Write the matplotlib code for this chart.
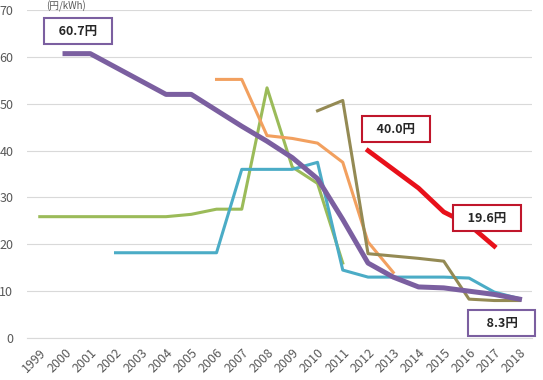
import numpy as np
import matplotlib
matplotlib.use("Agg")
import matplotlib.pyplot as plt

plt.rcParams['font.family'] = ['Noto Sans CJK JP', 'DejaVu Sans']

nan = np.nan
years = [str(y) for y in range(1999, 2019)]

# values per series, 1999..2018 (nan = no data)
green = [25.9, 25.9, 25.9, 25.9, 25.9, 25.9, 26.4, 27.5, 27.5, 53.4, 36.5, 33.0, 16.0,
         nan, nan, nan, nan, nan, nan, nan]
teal = [nan, nan, nan, 18.2, 18.2, 18.2, 18.2, 18.2, 36.0, 36.0, 36.0, 37.5, 14.5,
        13.0, 13.0, 13.0, 13.0, 12.8, 9.8, 8.4]
orange = [nan, nan, nan, nan, nan, nan, nan, 55.2, 55.2, 43.2, 42.6, 41.6, 37.5,
          20.5, 14.0, nan, nan, nan, nan, nan]
olive = [nan, nan, nan, nan, nan, nan, nan, nan, nan, nan, nan, 48.5, 50.7,
         18.0, 17.5, 17.0, 16.4, 8.3, 8.0, 8.0]
purple = [nan, 60.7, 60.7, 57.8, 54.9, 52.0, 52.0, 48.6, 45.2, 42.0, 38.5, 34.0, 25.3,
          16.0, 13.0, 10.9, 10.7, 10.0, 9.3, 8.3]
red = [nan, nan, nan, nan, nan, nan, nan, nan, nan, nan, nan, nan, nan,
       40.0, 36.0, 32.0, 26.9, 24.2, 19.6, nan]

yticks = [0, 10, 20, 30, 40, 50, 60, 70]

fig = plt.figure(figsize=(5.43, 3.80), dpi=100)
ax = fig.add_axes([0.050, 0.1105, 0.930, 0.863])

x = np.arange(len(years))
ax.plot(x, green, color='#9BBB59', lw=2.2)
ax.plot(x, teal, color='#4BACC6', lw=2.2)
ax.plot(x, orange, color='#F2A05F', lw=2.2)
ax.plot(x, olive, color='#948A54', lw=2.2)
ax.plot(x, purple, color='#7B5FA0', lw=3.6)
ax.plot(x, red, color='#E8101A', lw=3.4)

ax.set_xlim(-0.5, len(years) - 0.5)
ax.set_ylim(0, 70)
ax.set_yticks(yticks)
ax.set_xticks(x)
ax.set_xticklabels(years, rotation=45, ha='right', rotation_mode='anchor')
ax.tick_params(axis='both', length=0, labelsize=9, colors='#595959')
ax.tick_params(axis='x', pad=6)
ax.tick_params(axis='y', pad=10)
ax.grid(axis='y', color='#D9D9D9', lw=0.8)
ax.set_axisbelow(True)
for s in ['top', 'right', 'left']:
    ax.spines[s].set_visible(False)
ax.spines['bottom'].set_color('#D9D9D9')

# callout boxes
def callout(xx, yy, txt, ec):
    ax.text(xx, yy, txt, ha='center', va='center', fontsize=9, fontweight='bold',
            color='#262626',
            bbox=dict(boxstyle='square,pad=0.5', fc='white', ec=ec, lw=1.5))

callout(1.5, 65.5, '   60.7円   ', '#7B5FA0')
callout(14.1, 44.6, '   40.0円   ', '#C0162B')
callout(17.7, 25.6, '   19.6円   ', '#C0162B')
callout(18.3, 3.2, '    8.3円    ', '#7B5FA0')

# unit label at the top
fig.text(0.085, 0.999, '(円/kWh)', ha='left', va='top', fontsize=7, color='#595959')

fig.savefig('out.png', dpi=100)
